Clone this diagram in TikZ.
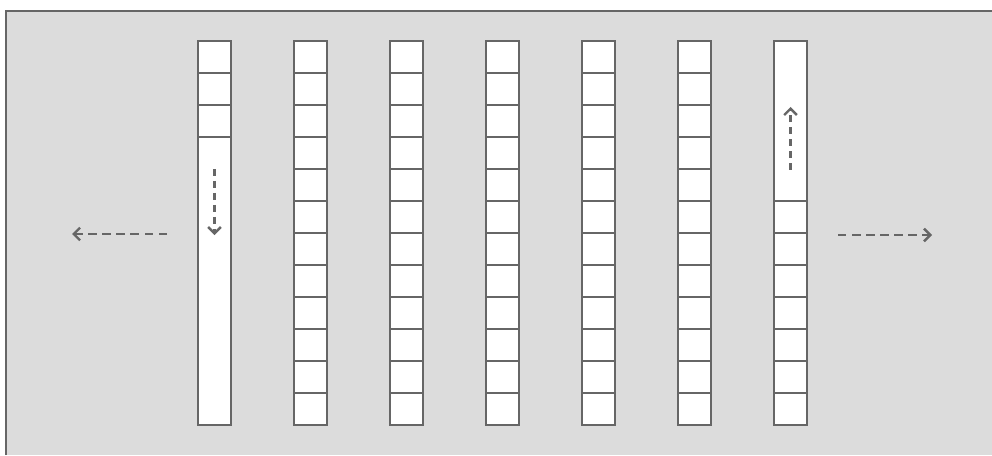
\documentclass[tikz,border=0pt]{standalone}
\usetikzlibrary{arrows.meta, positioning}

\definecolor{panelgray}{HTML}{DCDCDC}
\definecolor{edgegray}{HTML}{666666}

\begin{document}
\begin{tikzpicture}[
    x=0.025cm, y=0.025cm,
    cell/.style={
        rectangle, draw=edgegray, line width=1.5pt,
        fill=white, inner sep=0pt, outer sep=0pt,
        minimum width=0.825cm, minimum height=0.8cm
    },
    slot/.style={
        cell, minimum height=#1
    },
    flow/.style={
        draw=edgegray, line width=1.7pt,
        dash pattern=on 6pt off 4pt,
        -{Straight Barb[length=4.5pt, width=9pt]}
    }
]
\useasboundingbox (0,0) rectangle (992,455);

% Panel
\fill[panelgray] (6,0) rectangle (992,444);
\draw[edgegray, line width=1.8pt] (6,0) -- (6,444) -- (992,444);

% First column: three cells, then one long slot
\foreach \j in {0,1,2} {
    \node[cell] (c0-\j) at (214.5, {398-32*\j}) {};
}
\node[slot=7.2cm, below=0pt of c0-2] (c0-long) {};

% Middle columns
\foreach \i in {1,...,5} {
    \foreach \j in {0,...,11} {
        \node[cell] (c\i-\j) at ({214.5+96*\i}, {398-32*\j}) {};
    }
}

% Last column: one long slot, then seven cells
\node[slot=4cm] (c6-long) at (790.5, 334) {};
\foreach \j in {5,...,11} {
    \node[cell] (c6-\j) at (790.5, {398-32*\j}) {};
}

% Flow inside the end columns
\draw[flow, dash pattern=on 5pt off 3.5pt] ([yshift=-0.8cm]c0-long.north) -- ([yshift=-2.45cm]c0-long.north);
\draw[flow, dash pattern=on 5pt off 3.5pt] ([yshift=0.78cm]c6-long.south) -- ([yshift=2.35cm]c6-long.south);

% Flow out at the sides
\coordinate (exit-w) at (167,221);
\coordinate (tip-w) at (72,221);
\coordinate (exit-e) at (838,220);
\coordinate (tip-e) at (932,220);
\draw[flow] (exit-w) -- (tip-w);
\draw[flow] (exit-e) -- (tip-e);

\end{tikzpicture}
\end{document}
